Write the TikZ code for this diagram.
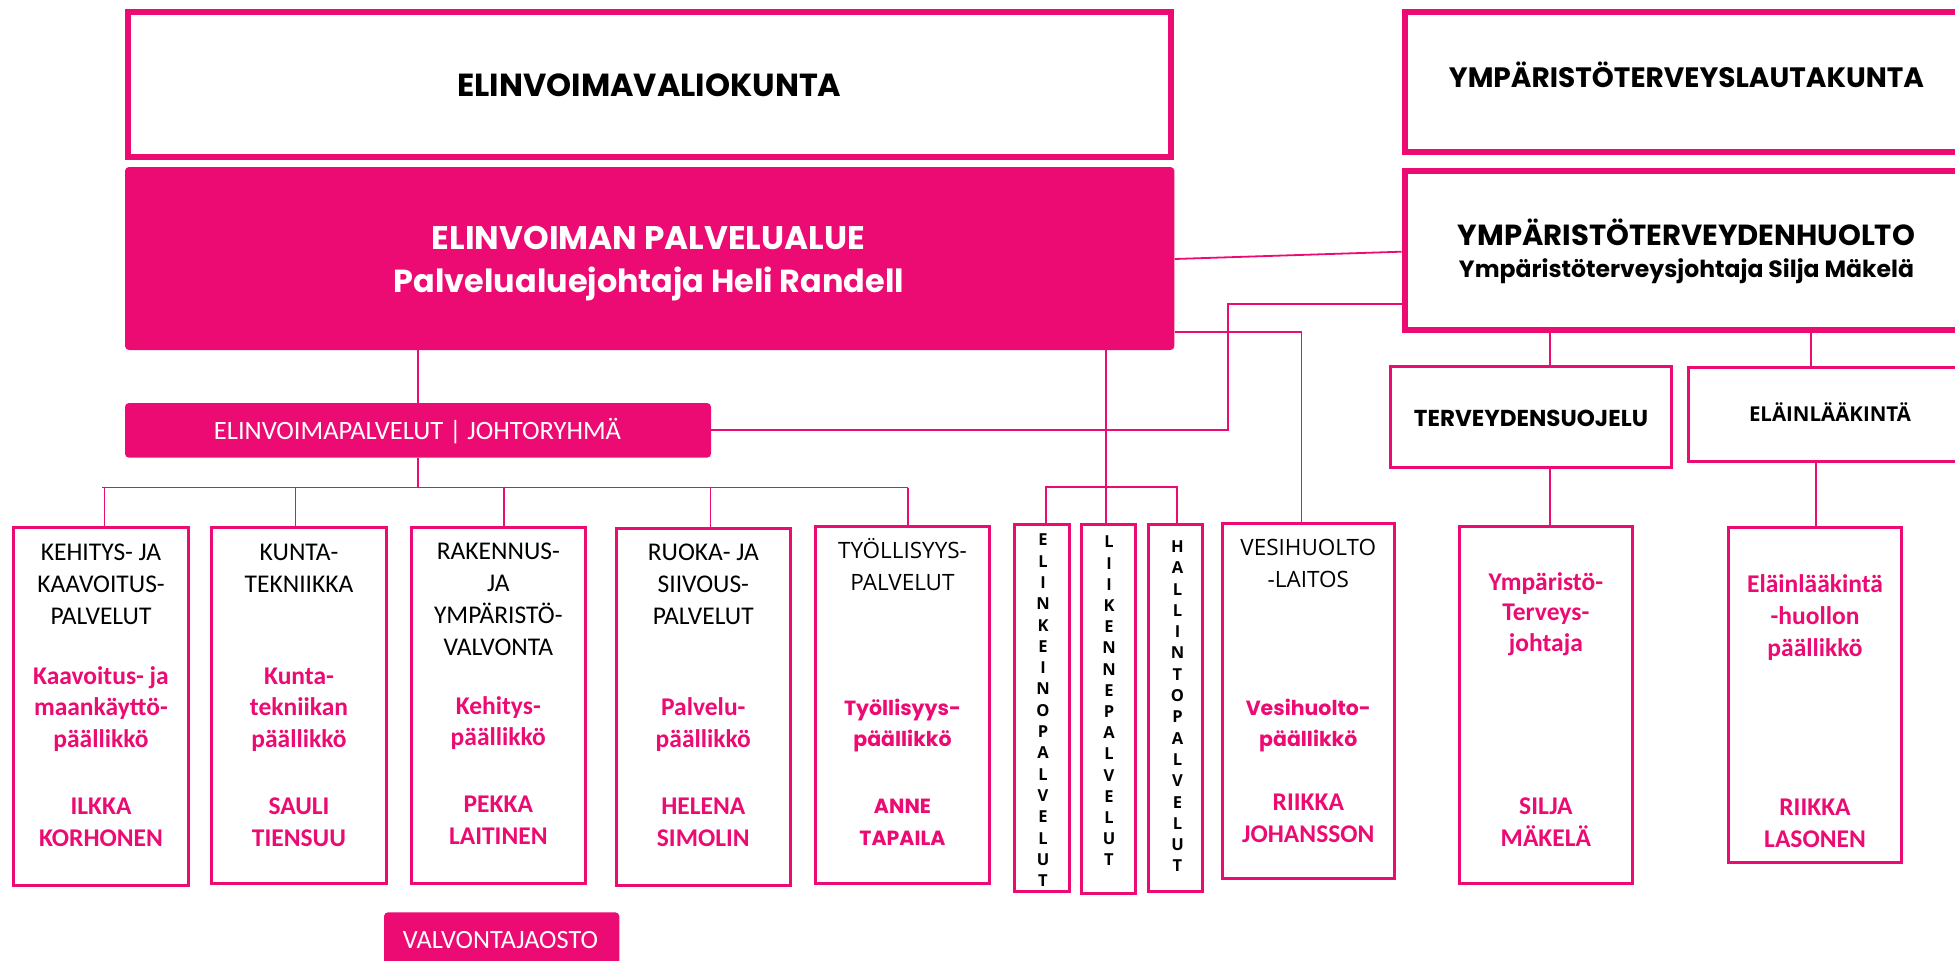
\documentclass[tikz,border=0pt]{standalone}
\usepackage{fontspec}
\setmainfont{Carlito}
\newfontfamily\popf{Poppins}
\newfontfamily\osf{Open Sans}
\definecolor{pk}{RGB}{236,10,115}
\newcommand\fitw[2]{\resizebox{#1pt}{!}{#2}}
\newcommand\mkbox[6]{\node[#6, minimum width={(#4)-(#2)}, minimum height={(#5)-(#3)}] (#1) at ({((#2)+(#4))/2},{((#3)+(#5))/2}) {};}
\newcommand\tlines[6]{\foreach \tx [count=\ix from 0] in {#6} {\node[#5] (#1\ix) at (#2,{#3+#4*\ix}) {\tx};}}
\begin{document}
\begin{tikzpicture}[x=1pt,y=-1pt,
  txt/.style={inner sep=0pt, outer sep=0pt, anchor=base},
  blk/.style={txt, font=\fontsize{25.5}{30}\selectfont},
  pnk/.style={txt, text=pk, font=\bfseries\fontsize{25.5}{30}\selectfont},
  oblk/.style={txt, font=\osf\fontsize{22.5}{27}\selectfont},
  opnk/.style={txt, text=pk, font=\popf\bfseries\fontsize{20.5}{25}\selectfont},
  vl/.style={txt, font=\osf\bfseries\fontsize{16.5}{18}\selectfont},
  hd/.style={txt, font=\popf\bfseries},
  bxa/.style={draw=pk, line width=6pt, fill=white, inner sep=0pt},
  bxb/.style={draw=pk, line width=3pt, fill=white, inner sep=0pt},
  fl/.style={fill=pk, rounded corners=4pt, inner sep=0pt},
  conn/.style={draw=pk, line width=1.8pt}]
\useasboundingbox (0,0) rectangle (1955,961);
\clip (0,0) rectangle (1955,961);
\fill[white] (0,0) rectangle (1955,961);

% boxes
\mkbox{VK}{128}{12.3}{1171.4}{157}{bxa}
\mkbox{PA}{125}{167}{1174.4}{350}{fl}
\mkbox{YTL}{1404.5}{12.3}{1975}{152}{bxa}
\mkbox{YTH}{1404.5}{170.7}{1975}{330}{bxa}
\mkbox{JR}{125}{403}{711}{457.7}{fl}
\mkbox{TS}{1390.8}{366.8}{1671.8}{467.8}{bxb}
\mkbox{ELH}{1688.5}{367}{1975}{461.5}{bxb}
\mkbox{B1}{13.8}{527.2}{188.5}{885.5}{bxb}
\mkbox{B2}{211.5}{527.2}{386.2}{883.5}{bxb}
\mkbox{B3}{411.5}{527}{585.2}{883.5}{bxb}
\mkbox{B4}{616.5}{528.2}{790.2}{885.5}{bxb}
\mkbox{B5}{815.8}{526}{989.2}{883.5}{bxb}
\mkbox{BE}{1014.8}{524.2}{1069.2}{891.3}{bxb}
\mkbox{BL}{1081.5}{524.2}{1135.8}{893.2}{bxb}
\mkbox{BH}{1148.8}{524.2}{1202.5}{891.3}{bxb}
\mkbox{VH}{1222.2}{523}{1394.5}{878.5}{bxb}
\mkbox{YM}{1459.3}{526.1}{1632.4}{883.9}{bxb}
\mkbox{ELB}{1728.3}{527.5}{1901.5}{862.5}{bxb}
\mkbox{VJ}{384}{912.3}{619.3}{980}{fl}

% connector points
\coordinate (busL) at (102,487.5);
\coordinate (busR) at (908.3,487.5);
\coordinate (d1) at (104.5,487.5);
\coordinate (d2) at (295.5,487.5);
\coordinate (d3) at (503.8,487.5);
\coordinate (d4) at (710.5,487.5);
\coordinate (k1) at (1228.3,304);
\coordinate (k2) at (1301.5,331.7);
\coordinate (k3) at (1106,487);
\coordinate (e1) at (1046,487);
\coordinate (h1) at (1177.3,487);
\coordinate (s1) at (0,259);
\coordinate (s2) at (0,251.7);
\coordinate (t1) at (1549.7,0);
\coordinate (t2) at (1810.8,0);
\coordinate (t3) at (1816,0);

% connectors
\draw[conn] (JR.north) -- (JR.north |- PA.south);
\draw[conn] (JR.south) -- (JR.south |- busL);
\draw[conn] (busL) -- (busR);
\draw[conn] (d1) -- (d1 |- B1.north);
\draw[conn] (d2) -- (d2 |- B2.north);
\draw[conn] (d3) -- (d3 |- B3.north);
\draw[conn] (d4) -- (d4 |- B4.north);
\draw[conn] (busR) -- (busR |- B5.north);
\draw[conn] (JR.east) -| (k1) -- (k1 -| YTH.west);
\draw[conn] (k2 -| PA.east) -- (k2) -- (k2 |- VH.north);
\draw[conn] (s1 -| PA.east) -- (s2 -| YTH.west);
\draw[conn] (k3 |- PA.south) -- (k3 |- BL.north);
\draw[conn] (e1 |- BE.north) -- (e1) -- (h1) -- (h1 |- BH.north);
\draw[conn] (t1 |- YTH.south) -- (t1 |- TS.north);
\draw[conn] (t1 |- TS.south) -- (t1 |- YM.north);
\draw[conn] (t2 |- YTH.south) -- (t2 |- ELH.north);
\draw[conn] (t3 |- ELH.south) -- (t3 |- ELB.north);

% headings
\node[hd] (tVK) at (649.5,96.7) {\fitw{384}{ELINVOIMAVALIOKUNTA}};
\node[hd, text=white] (tPA1) at (648.5,249.3) {\fitw{433}{ELINVOIMAN PALVELUALUE}};
\node[hd, text=white] (tPA2) at (649,292.7) {\fitw{510}{Palvelualuejohtaja Heli Randell}};
\node[hd] (tYTL) at (1686.5,87) {\fitw{475}{YMPÄRISTÖTERVEYSLAUTAKUNTA}};
\node[hd] (tYTH1) at (1686.5,245) {\fitw{457}{YMPÄRISTÖTERVEYDENHUOLTO}};
\node[hd] (tYTH2) at (1686.5,277) {\fitw{455}{Ympäristöterveysjohtaja Silja Mäkelä}};
\node[hd] (tTS) at (1531,426.7) {\fitw{234}{TERVEYDENSUOJELU}};
\node[txt, font=\osf\bfseries] (tELH) at (1830,421.7) {\fitw{162}{ELÄINLÄÄKINTÄ}};
\node[txt, text=white] (tJR) at (417.5,439.3) {\fitw{407}{ELINVOIMAPALVELUT | JOHTORYHMÄ}};
\node[txt, text=white] (tVJ) at (500.5,948) {\fitw{195}{VALVONTAJAOSTO}};

% box texts
\tlines{b1a}{101}{560}{32}{blk}{KEHITYS- JA,KAAVOITUS-,PALVELUT}
\tlines{b1b}{101}{684}{31.5}{pnk}{Kaavoitus- ja,maankäyttö-,päällikkö}
\tlines{b1c}{101}{814.5}{32}{pnk}{ILKKA,KORHONEN}
\tlines{b2a}{299}{560}{32}{blk}{KUNTA-,TEKNIIKKA}
\tlines{b2b}{299}{684}{31.5}{pnk}{Kunta-,tekniikan,päällikkö}
\tlines{b2c}{299}{814.5}{32}{pnk}{SAULI,TIENSUU}
\tlines{b3a}{498.3}{559}{32}{blk}{RAKENNUS-,JA,YMPÄRISTÖ-,VALVONTA}
\tlines{b3b}{498.3}{714}{31.5}{pnk}{Kehitys-,päällikkö}
\tlines{b3c}{498.3}{812}{32}{pnk}{PEKKA,LAITINEN}
\tlines{b4a}{703.3}{560}{32}{blk}{RUOKA- JA,SIIVOUS-,PALVELUT}
\tlines{b4b}{703.3}{715.5}{31.5}{pnk}{Palvelu-,päällikkö}
\tlines{b4c}{703.3}{814.5}{32}{pnk}{HELENA,SIMOLIN}
\tlines{b5a}{902.5}{558.5}{31.5}{oblk}{TYÖLLISYYS-,PALVELUT}
\tlines{b5b}{902.5}{715}{31.5}{opnk}{Työllisyys-,päällikkö}
\tlines{b5c}{902.5}{813.4}{31.6}{opnk}{ANNE,TAPAILA}
\tlines{vha}{1308.3}{555.5}{31.5}{oblk}{VESIHUOLTO,-LAITOS}
\tlines{vhb}{1308.3}{715}{31.5}{opnk}{Vesihuolto-,päällikkö}
\tlines{vhc}{1308.3}{810}{32.5}{pnk}{RIIKKA,JOHANSSON}
\tlines{yma}{1545.9}{590}{30.5}{pnk}{Ympäristö-,Terveys-,johtaja}
\tlines{ymc}{1545.9}{814}{32}{pnk}{SILJA,MÄKELÄ}
\tlines{ela}{1815}{592.5}{32}{pnk}{Eläinlääkintä,-huollon,päällikkö}
\tlines{elc}{1815}{815.7}{31.3}{pnk}{RIIKKA,LASONEN}

% vertical letters
\tlines{ve}{1043}{545.8}{21.3}{vl}{E,L,I,N,K,E,I,N,O,P,A,L,V,E,L,U,T}
\tlines{vli}{1109}{547.8}{21.2}{vl}{L,I,I,K,E,N,N,E,P,A,L,V,E,L,U,T}
\tlines{vh}{1177.5}{552.4}{21.3}{vl}{H,A,L,L,I,N,T,O,P,A,L,V,E,L,U,T}
\end{tikzpicture}
\end{document}
